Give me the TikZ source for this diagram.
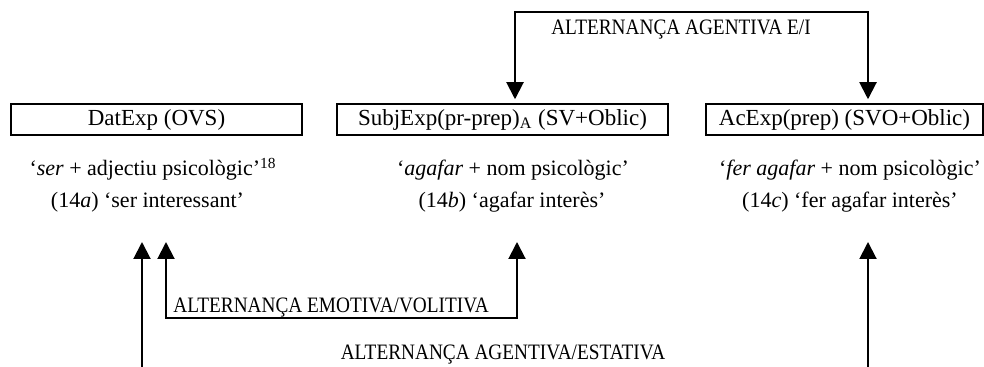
\documentclass[tikz,border=0pt]{standalone}
\usepackage{fontspec}
\setmainfont{Liberation Serif}
\usetikzlibrary{arrows.meta,calc}
\begin{document}
\begin{tikzpicture}[x=0.5pt,y=-0.5pt,
  box/.style={draw,line width=0.75pt,inner sep=0pt,minimum height=15.5pt,font=\fontsize{11.5}{13}\selectfont},
  txt/.style={inner sep=0pt,anchor=base,font=\fontsize{11}{13}\selectfont},
  lbl/.style={inner sep=0pt,anchor=base,font=\fontsize{11}{13}\selectfont},
  conn/.style={line width=1pt,{Triangle[width=8.5pt,length=8.5pt]}-{Triangle[width=8.5pt,length=8.5pt]}},
]
\useasboundingbox (0,0) rectangle (984,367);
\clip (0,0) rectangle (984,367);
\fill[white] (0,0) rectangle (984,367);
% boxes
\node[box,minimum width=145.5pt] (b1) at (156.5,119.5) {DatExp (OVS)};
\node[box,minimum width=165.5pt] (b2) at (502.5,119.5) {SubjExp(pr-prep)\textsubscript{A} (SV+Oblic)};
\node[box,minimum width=138.5pt] (b3) at (844.5,119.5) {AcExp(prep) (SVO+Oblic)};
% row 2
\node[txt] (t1a) at (153,176) {‘\textit{ser} + adjectiu psicològic’\textsuperscript{18}};
\node[txt] (t1b) at (513,176) {‘\textit{agafar} + nom psicològic’};
\node[txt] (t1c) at (850,176) {‘\textit{fer agafar} + nom psicològic’};
% row 3
\node[txt] (e1a) at (147.5,208) {(14\textit{a}) ‘ser interessant’};
\node[txt] (e1b) at (512,208) {(14\textit{b}) ‘agafar interès’};
\node[txt] (e1c) at (850,208) {(14\textit{c}) ‘fer agafar interès’};
% labels
\node[lbl] (l1) at (681,35) {\scalebox{0.877}[1]{ALTERNANÇA AGENTIVA E/I}};
\node[lbl,anchor=base west] (l2) at (173,313) {\scalebox{0.877}[1]{ALTERNANÇA EMOTIVA/VOLITIVA}};
\node[lbl] (l3) at (503,360) {\scalebox{0.877}[1]{ALTERNANÇA AGENTIVA/ESTATIVA}};
% connectors
\draw[conn] ($(b2.north)+(12.5,-4)$) -- ++(0,-87) -| ($(b3.north)+(23.5,-4)$);
\draw[conn] ($(e1a.base)+(18.5,34)$) -- ++(0,76) -| ($(e1b.base)+(5,34)$);
\draw[conn] ($(e1a.base)+(-5.5,34)$) -- ++(0,126) -| ($(e1c.base)+(18,34)$);
\end{tikzpicture}
\end{document}
